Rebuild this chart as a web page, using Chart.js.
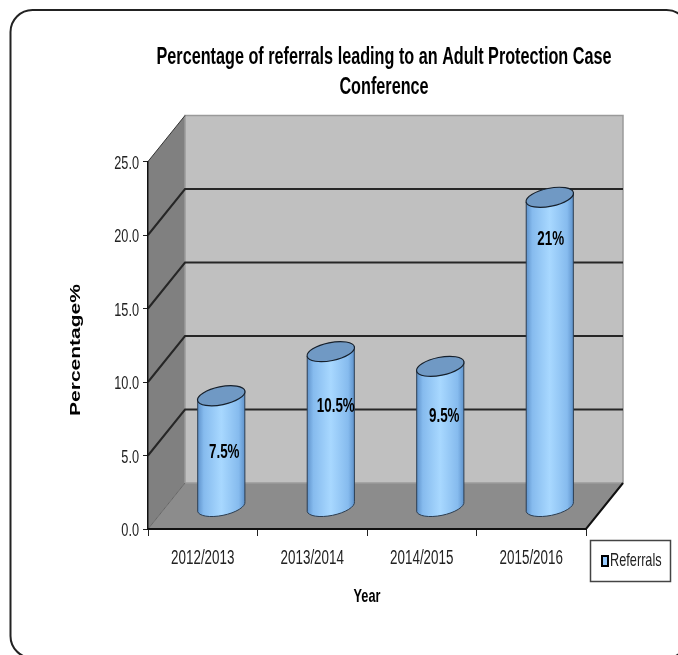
<!DOCTYPE html>
<html>
<head>
<meta charset="utf-8">
<title>Adult Protection Case Conference referrals</title>
<style>
  html, body { margin: 0; padding: 0; background: #fff; }
  canvas { display: block; }
</style>
<script src="https://cdn.jsdelivr.net/npm/chart.js@4"></script>
</head>
<body>
<canvas id="chart" width="678" height="655"></canvas>
<script>
const years = ['2012/2013', '2013/2014', '2014/2015', '2015/2016'];
const referrals = [7.5, 10.5, 9.5, 21];
const valueLabels = ['7.5%', '10.5%', '9.5%', '21%'];
const yTicks = ['0.0', '5.0', '10.0', '15.0', '20.0', '25.0'];

const SANS = '"Liberation Sans", sans-serif';

// depth of the fake 3d box, front plane to back wall
const depthX = 37;
const depthY = -46;

// nudges for the value labels, measured from the top of each cylinder
const labelDrop = [57, 55, 50, 42];
const labelShift = [3, 5, 4, 1];

// no narrow face is installed, so text is squeezed through fillText's maxWidth
let squeezeText = true;
function condenseText(ctx) {
  if (ctx.condensed) return;
  const fill = ctx.fillText;
  ctx.fillText = function (text, x, y) {
    if (!squeezeText) return fill.call(this, text, x, y);
    const factor = this.font.startsWith('bold 23px') ? 0.705 : 0.67;
    return fill.call(this, text, x, y, this.measureText(text).width * factor);
  };
  ctx.condensed = true;
}

function roundedFrame(ctx) {
  ctx.save();
  ctx.strokeStyle = '#222';
  ctx.lineWidth = 2;
  ctx.beginPath();
  ctx.roundRect(10.5, 10, 678, 648, 22);
  ctx.stroke();
  ctx.restore();
}

function poly(ctx, pts, fill) {
  ctx.beginPath();
  pts.forEach((p, i) => i ? ctx.lineTo(p[0], p[1]) : ctx.moveTo(p[0], p[1]));
  ctx.closePath();
  ctx.fillStyle = fill;
  ctx.fill();
}

// walls, floor and the gridlines that wrap round them
const boxPlugin = {
  id: 'box',
  beforeDraw(chart) {
    const { ctx, chartArea: a, scales: { y } } = chart;
    condenseText(ctx);
    roundedFrame(ctx);

    poly(ctx, [[a.left + depthX, a.top + depthY], [a.right + depthX, a.top + depthY],
      [a.right + depthX, a.bottom + depthY], [a.left + depthX, a.bottom + depthY]], '#c0c0c0');
    poly(ctx, [[a.left, a.top], [a.left + depthX, a.top + depthY],
      [a.left + depthX, a.bottom + depthY], [a.left, a.bottom]], '#808080');
    poly(ctx, [[a.left, a.bottom], [a.left + depthX, a.bottom + depthY],
      [a.right + depthX, a.bottom + depthY], [a.right, a.bottom]], '#8c8c8c');

    // pale edges on the back wall
    ctx.strokeStyle = '#9a9a9a';
    ctx.lineWidth = 1.5;
    ctx.beginPath();
    ctx.moveTo(a.left + depthX, a.bottom + depthY);
    ctx.lineTo(a.left + depthX, a.top + depthY);
    ctx.lineTo(a.right + depthX, a.top + depthY);
    ctx.lineTo(a.right + depthX, a.bottom + depthY);
    ctx.lineTo(a.left + depthX, a.bottom + depthY);
    ctx.stroke();

    y.ticks.forEach(t => {
      if (t.value === 0 || t.value === 25) return;
      const py = y.getPixelForValue(t.value);
      ctx.strokeStyle = '#262626';
      ctx.lineWidth = 2;
      ctx.beginPath();
      ctx.moveTo(a.left, py);
      ctx.lineTo(a.left + depthX, py + depthY);
      ctx.lineTo(a.right + depthX, py + depthY);
      ctx.stroke();
    });

    // thin diagonals for the floor and top corner
    ctx.strokeStyle = '#333';
    ctx.lineWidth = 1;
    ctx.beginPath();
    ctx.moveTo(a.left, a.top);
    ctx.lineTo(a.left + depthX, a.top + depthY);
    ctx.stroke();
    ctx.strokeStyle = '#666';
    ctx.beginPath();
    ctx.moveTo(a.left, a.bottom);
    ctx.lineTo(a.left + depthX, a.bottom + depthY);
    ctx.stroke();
  },
  afterDatasetsDraw(chart) {
    const { ctx, chartArea: a } = chart;
    ctx.strokeStyle = '#111';
    ctx.lineWidth = 2;
    ctx.beginPath();
    ctx.moveTo(a.left, a.bottom);
    ctx.lineTo(a.right, a.bottom);
    ctx.lineTo(a.right + depthX, a.bottom + depthY);
    ctx.stroke();
  },
  afterLayout(chart) {
    // the title sits centred over plot and legend together
    chart.titleBlock.left += 46;
    chart.titleBlock.right += 46;
  },
  afterDraw(chart) {
    const { ctx } = chart;

    // y axis title is stretched along the wall instead of squeezed
    squeezeText = false;
    ctx.save();
    ctx.translate(76, 350);
    ctx.rotate(-Math.PI / 2);
    ctx.scale(1.5, 1);
    ctx.font = 'bold 14px ' + SANS;
    ctx.fillStyle = '#000';
    ctx.textAlign = 'center';
    ctx.textBaseline = 'middle';
    ctx.fillText('Percentage%', 0, 0);
    ctx.restore();
    squeezeText = true;

    // legend
    ctx.save();
    ctx.strokeStyle = '#444';
    ctx.lineWidth = 1.5;
    ctx.fillStyle = '#fff';
    ctx.fillRect(590.5, 540.5, 80, 41);
    ctx.strokeRect(590.5, 540.5, 80, 41);
    ctx.fillStyle = chart.data.datasets[0].backgroundColor;
    ctx.strokeStyle = '#000';
    ctx.lineWidth = 2;
    ctx.fillRect(602, 556, 6, 10);
    ctx.strokeRect(602, 556, 6, 10);
    ctx.fillStyle = '#222';
    ctx.font = '19px ' + SANS;
    ctx.textAlign = 'left';
    ctx.textBaseline = 'middle';
    ctx.fillText(chart.data.datasets[0].label, 610, 561);
    ctx.restore();
  }
};

function cylinder(ctx, cx, top, bottom, halfW) {
  const ry = 9;
  const tilt = -0.2;
  const rx = halfW + 0.6;
  const lean = rx * Math.sin(-tilt);

  const grad = ctx.createLinearGradient(cx - halfW, 0, cx + halfW, 0);
  grad.addColorStop(0, '#5f93cc');
  grad.addColorStop(0.13, '#86bbee');
  grad.addColorStop(0.5, '#a8d8ff');
  grad.addColorStop(0.87, '#86bbee');
  grad.addColorStop(1, '#5f93cc');

  ctx.beginPath();
  ctx.moveTo(cx - halfW, top + lean);
  ctx.lineTo(cx - halfW, bottom + lean);
  ctx.ellipse(cx, bottom, rx, ry, tilt, Math.PI, 0, true);
  ctx.lineTo(cx + halfW, top - lean);
  ctx.closePath();
  ctx.fillStyle = grad;
  ctx.fill();
  ctx.strokeStyle = '#2c3e52';
  ctx.lineWidth = 1;
  ctx.stroke();

  ctx.beginPath();
  ctx.ellipse(cx, top, rx, ry, tilt, 0, Math.PI * 2);
  ctx.fillStyle = '#7099c4';
  ctx.fill();
  ctx.strokeStyle = '#16202c';
  ctx.lineWidth = 1.2;
  ctx.stroke();
}

// bars are drawn as cylinders standing halfway back on the floor
const cylinderPlugin = {
  id: 'cylinders',
  beforeDatasetDraw(chart, args) {
    const { ctx } = chart;
    args.meta.data.forEach((bar, i) => {
      const cx = bar.x + depthX / 2;
      const top = bar.y + depthY / 2;
      const bottom = bar.base + depthY / 2 + 1;
      cylinder(ctx, cx, top, bottom, bar.width / 2);

      ctx.save();
      ctx.font = 'bold 20px ' + SANS;
      ctx.fillStyle = '#000';
      ctx.textAlign = 'center';
      ctx.textBaseline = 'middle';
      ctx.fillText(valueLabels[i], cx + labelShift[i], top + labelDrop[i]);
      ctx.restore();
    });
    return false;
  }
};

new Chart(document.getElementById('chart').getContext('2d'), {
  type: 'bar',
  data: {
    labels: years,
    datasets: [{
      label: 'Referrals',
      data: referrals,
      backgroundColor: '#99ccff',
      barPercentage: 0.43,
      categoryPercentage: 1
    }]
  },
  plugins: [boxPlugin, cylinderPlugin],
  options: {
    responsive: false,
    animation: false,
    layout: { padding: { left: 90, right: 92, top: 0, bottom: 47 } },
    plugins: {
      legend: { display: false },
      tooltip: { enabled: false },
      title: {
        display: true,
        text: ['Percentage of referrals leading to an Adult Protection Case', 'Conference'],
        color: '#000',
        font: { family: SANS, size: 23, weight: 'bold', lineHeight: 1.3 },
        padding: { top: 43, bottom: 58.7 }
      }
    },
    scales: {
      x: {
        afterFit(scale) { scale.height = 79; },
        border: { color: '#111', width: 1 },
        grid: { drawOnChartArea: false, drawTicks: true, tickLength: 7, color: '#222' },
        ticks: { color: '#222', font: { family: SANS, size: 20 }, padding: 10, maxRotation: 0, autoSkip: false },
        title: {
          display: true,
          text: 'Year',
          color: '#000',
          font: { family: SANS, size: 19, weight: 'bold' },
          padding: { top: 16, bottom: 0 }
        }
      },
      y: {
        min: 0,
        max: 25,
        afterFit(scale) { scale.width = 58; },
        border: { color: '#111', width: 1.5 },
        grid: { drawOnChartArea: false, drawTicks: true, tickLength: 5, color: '#222' },
        ticks: {
          stepSize: 5,
          color: '#222',
          padding: 4,
          labelOffset: 2,
          font: { family: SANS, size: 19 },
          callback: (v, i) => yTicks[i]
        }
      }
    }
  }
});
</script>
</body>
</html>
